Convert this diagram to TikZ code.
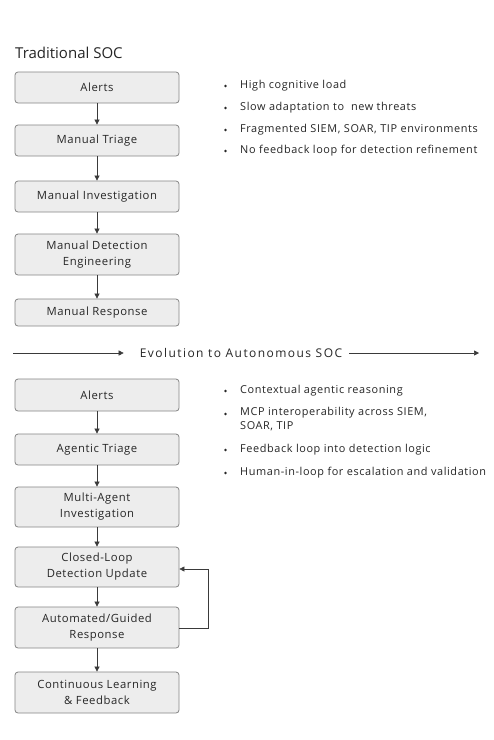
\documentclass[tikz,border=0pt]{standalone}
\usepackage{fontspec}
\setmainfont{Open Sans}
\newfontfamily\boxfont[LetterSpace=5]{Open Sans}
\newfontfamily\bulfont[LetterSpace=5.5]{Open Sans}
\newfontfamily\evofont[LetterSpace=12]{Open Sans}
\usetikzlibrary{arrows.meta}
\definecolor{txt}{HTML}{262626}
\definecolor{boxfill}{HTML}{EDEDED}
\definecolor{boxline}{HTML}{858585}
\definecolor{arr}{HTML}{3A3A3A}
\begin{document}
\begin{tikzpicture}[x=1pt,y=-1pt,
  stepbox/.style={draw=boxline, fill=boxfill, rounded corners=3pt, line width=0.8pt,
    minimum width=164pt, inner sep=0pt, align=center, text=txt, font=\boxfont\fontsize{11.3}{16}\selectfont},
  flow/.style={draw=arr, line width=0.7pt, -{Triangle[length=5pt,width=5pt]}},
  bul/.style={anchor=west, inner sep=0pt, text=txt, align=left, font=\bulfont\fontsize{10.9}{14}\selectfont},
  dot/.style={fill=txt, circle, inner sep=0pt, minimum size=2.8pt}]
\useasboundingbox[fill=white] (0,0) rectangle (494,740);
% title
\node[anchor=base west, inner sep=0pt, text=txt, font=\fontsize{15}{18}\selectfont] (title) at (15,58) {Traditional SOC};
% traditional boxes
\node[stepbox, minimum height=31pt] (t1) at (97,87.5) {Alerts};
\node[stepbox, minimum height=31pt] (t2) at (97,140.5) {Manual Triage};
\node[stepbox, minimum height=31pt] (t3) at (97,196.5) {Manual Investigation};
\node[stepbox, minimum height=41pt] (t4) at (97,254.5) {Manual Detection\\Engineering};
\node[stepbox, minimum height=27pt] (t5) at (97,312.5) {Manual Response};
\draw[flow] (t1) -- (t2);
\draw[flow] (t2) -- (t3);
\draw[flow] (t3) -- (t4);
\draw[flow] (t4) -- (t5);
% traditional bullets
\node[dot] (d1) at (225.5,86) {};
\node[bul] (b1) at (240,86) {High cognitive load};
\node[dot] (d2) at (225.5,108) {};
\node[bul] (b2) at (240,108) {Slow adaptation to\ \ new threats};
\node[dot] (d3) at (225.5,130) {};
\node[bul] (b3) at (240,130) {Fragmented SIEM, SOAR, TIP environments};
\node[dot] (d4) at (225.5,151) {};
\node[bul] (b4) at (240,151) {No feedback loop for detection refinement};
% evolution
\node[inner sep=0pt, text=txt, font=\evofont\fontsize{12}{14}\selectfont] (evo) at (241,353) {Evolution to Autonomous SOC};
\coordinate (e0) at (13,353);
\coordinate (e1) at (479,353);
\draw[flow, line width=0.5pt] (e0) -- ([xshift=-16pt]evo.west);
\draw[flow, line width=0.5pt] ([xshift=7pt]evo.east) -- (e1);
% autonomous boxes
\node[stepbox, minimum height=32pt] (a1) at (97,395) {Alerts};
\node[stepbox, minimum height=31pt] (a2) at (97,449.5) {Agentic Triage};
\node[stepbox, minimum height=40pt] (a3) at (97,507) {Multi-Agent\\Investigation};
\node[stepbox, minimum height=40pt] (a4) at (97,567) {Closed-Loop\\Detection Update};
\node[stepbox, minimum height=41pt] (a5) at (97,627.5) {Automated/Guided\\Response};
\node[stepbox, minimum height=41pt] (a6) at (97,692.5) {Continuous Learning\\\& Feedback};
\draw[flow] (a1) -- (a2);
\draw[flow] (a2) -- (a3);
\draw[flow] (a3) -- (a4);
\draw[flow] (a4) -- (a5);
\draw[flow] (a5) -- (a6);
\coordinate (l1) at (208,628);
\coordinate (l2) at (208,569);
\draw[flow, line width=0.6pt] (a5.east |- l1) -- (l1) -- (l2) -- (a4.east |- l2);
% autonomous bullets
\node[dot] (c1) at (225.5,391) {};
\node[bul] (k1) at (240,391) {Contextual agentic reasoning};
\node[dot] (c2) at (225.5,414) {};
\node[bul, anchor=north west] (k2) at (240,407.5) {MCP interoperability across SIEM,\\SOAR, TIP};
\node[dot] (c3) at (225.5,450) {};
\node[bul] (k3) at (240,450) {Feedback loop into detection logic};
\node[dot] (c4) at (225.5,473) {};
\node[bul] (k4) at (240,473) {Human-in-loop for escalation and validation};
\end{tikzpicture}
\end{document}
